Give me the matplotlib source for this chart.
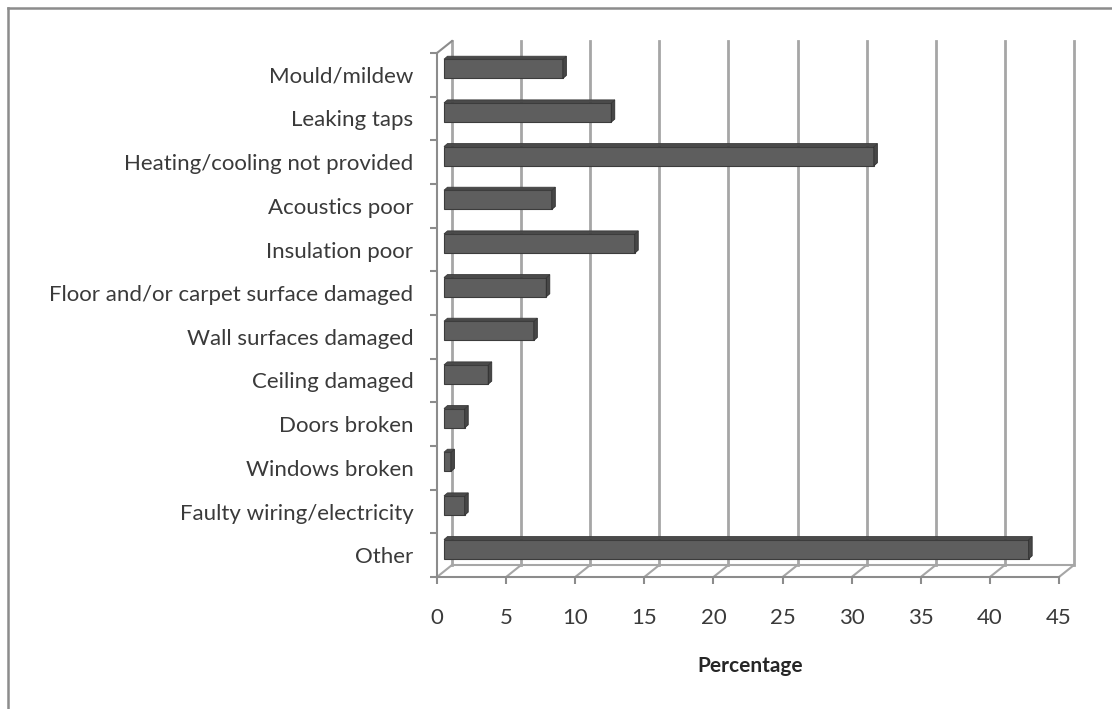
import matplotlib
matplotlib.use('Agg')
import matplotlib.pyplot as plt
from matplotlib.patches import Polygon
from matplotlib.lines import Line2D
import numpy as np

plt.rcParams['font.family'] = ['Lato', 'DejaVu Sans']

# Data (top to bottom as in the chart)
categories = ['Mould/mildew', 'Leaking taps', 'Heating/cooling not provided',
              'Acoustics poor', 'Insulation poor', 'Floor and/or carpet surface damaged',
              'Wall surfaces damaged', 'Ceiling damaged', 'Doors broken',
              'Windows broken', 'Faulty wiring/electricity', 'Other']
values = [8.6, 12.1, 31.1, 7.8, 13.8, 7.4, 6.5, 3.2, 1.5, 0.5, 1.5, 42.3]
xticks = [0, 5, 10, 15, 20, 25, 30, 35, 40, 45]

W, H = 1112, 709
fig = plt.figure(figsize=(W / 100, H / 100), dpi=100)
ax = fig.add_axes([437 / W, 1 - 577 / H, (1059 - 437) / W, (577 - 53) / H])

n = len(categories)
y = np.arange(n)[::-1]
xmax = 45
ax.set_xlim(0, xmax)
ax.set_ylim(-0.5, n - 0.5)

# pixel -> data conversion for the fake 3D depth
px_x = (1059 - 437) / xmax
px_y = (577 - 53) / n
DX, DY = 15 / px_x, 12 / px_y        # back wall offset
BX, BY = 7 / px_x, 6 / px_y          # bar position (mid depth)
dx, dy = 3.5 / px_x, 3 / px_y        # bar thickness

grid_c = '#a6a6a6'
axis_c = '#8c8c8c'
text_c = '#3a3a3a'

# back wall gridlines and floor
for v in xticks:
    ax.plot([v + DX, v + DX], [-0.5 + DY, n - 0.5 + DY], color=grid_c, lw=2, clip_on=False, zorder=1)
    ax.plot([v, v + DX], [-0.5, -0.5 + DY], color=grid_c, lw=1.5, clip_on=False, zorder=1)
ax.plot([DX, xmax + DX], [-0.5 + DY, -0.5 + DY], color=grid_c, lw=1.5, clip_on=False, zorder=1)
ax.plot([0, DX], [n - 0.5, n - 0.5 + DY], color=axis_c, lw=1.5, clip_on=False, zorder=1)

# bars
h = 0.44
ax.barh(y + BY, values, left=BX, height=h, color='#5e5e5e', edgecolor='#3c3c3c', lw=0.8, zorder=3)
for yi, v in zip(y, values):
    yb, yt = yi + BY - h / 2, yi + BY + h / 2
    xr = v + BX
    side = Polygon([(xr, yb), (xr, yt), (xr + dx, yt + dy), (xr + dx, yb + dy)],
                   closed=True, facecolor='#474747', edgecolor='#2e2e2e', lw=0.6, zorder=3)
    top = Polygon([(BX, yt), (xr, yt), (xr + dx, yt + dy), (BX + dx, yt + dy)],
                  closed=True, facecolor='#4a4a4a', edgecolor='#3c3c3c', lw=0.6, zorder=3)
    ax.add_patch(side)
    ax.add_patch(top)

# axes
for s in ['top', 'right']:
    ax.spines[s].set_visible(False)
for s in ['bottom', 'left']:
    ax.spines[s].set_color(axis_c)
    ax.spines[s].set_linewidth(1.5)
ax.set_xticks(xticks)
ax.set_xticklabels([str(t) for t in xticks], fontsize=16, color=text_c)
ax.tick_params(axis='x', length=5, width=1.5, color=axis_c, pad=17)
ax.set_yticks(y)
ax.set_yticklabels(categories, fontsize=16, color=text_c)
ax.set_yticks(np.arange(n + 1) - 0.5, minor=True)
ax.tick_params(axis='y', which='major', length=0, pad=17)
ax.tick_params(axis='y', which='minor', length=5, width=1.5, color=axis_c)
ax.set_xlabel('Percentage', fontsize=15, fontweight='bold', color='#262626')
ax.xaxis.set_label_coords((750 - 437) / (1059 - 437), -(656 - 577) / (577 - 53))

# chart frame (only top and left edges visible)
fig.add_artist(Line2D([8 / W, 8 / W], [0, 1 - 8 / H], color='#8c8c8c', lw=1.8))
fig.add_artist(Line2D([8 / W, 1], [1 - 8 / H, 1 - 8 / H], color='#8c8c8c', lw=1.8))

fig.savefig('out.png', dpi=100)
